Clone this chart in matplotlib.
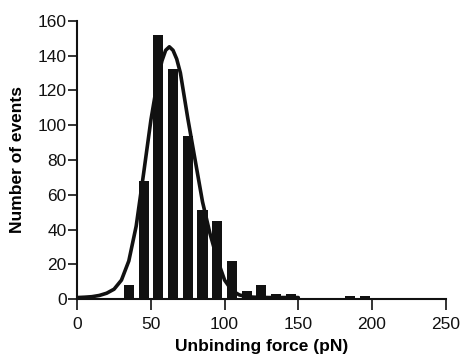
import matplotlib
matplotlib.use("Agg")
import matplotlib.pyplot as plt

# Histogram data (bin centres in pN, counts)
bin_centers = [35, 45, 55, 65, 75, 85, 95, 105, 115, 125, 135, 145, 185, 195]
counts = [8, 68, 152, 132, 94, 51, 45, 22, 5, 8, 3, 3, 2, 2]

# Fitted curve
curve_x = [0, 5, 10, 15, 20, 25, 30, 35, 40, 45, 50, 55, 57.5, 60, 62.5, 65,
           67.5, 70, 72.5, 75, 80, 85, 90, 95, 100, 105, 110, 115, 120, 130, 140, 150]
curve_y = [1.0, 1.2, 1.5, 2.2, 3.5, 5.8, 11, 22, 42, 72, 103, 128, 137, 143, 145, 143,
           138, 130, 117, 104, 80, 56, 38, 23, 11, 5, 2.5, 1.5, 1.2, 1.0, 1.0, 1.0]

x_ticks = [0, 50, 100, 150, 200, 250]
y_ticks = [0, 20, 40, 60, 80, 100, 120, 140, 160]

plt.rcParams['font.family'] = ['Liberation Sans', 'DejaVu Sans']

fig = plt.figure(figsize=(4.61, 3.56), dpi=100)
ax = fig.add_axes([0.1675, 0.1593, 0.7993, 0.7826])

ax.bar(bin_centers, counts, width=6.8, color='#111111', edgecolor='none', zorder=2)
ax.plot(curve_x, curve_y, color='#111111', lw=2.6, zorder=3, solid_capstyle='round')

ax.set_xlim(0, 250)
ax.set_ylim(0, 160)
ax.set_xticks(x_ticks)
ax.set_yticks(y_ticks)
ax.set_xticklabels([str(v) for v in x_ticks])
ax.set_yticklabels([str(v) for v in y_ticks])

for s in ['top', 'right']:
    ax.spines[s].set_visible(False)
for s in ['left', 'bottom']:
    ax.spines[s].set_linewidth(1.5)
    ax.spines[s].set_color('#111111')
ax.spines['bottom'].set_zorder(4)

ax.tick_params(axis='y', direction='out', length=6.5, width=1.2, labelsize=12.5, pad=1,
               colors='#111111')
ax.tick_params(axis='x', direction='out', length=8, width=1.2, labelsize=12.5, pad=5,
               colors='#111111')

ax.set_xlabel('Unbinding force (pN)', fontsize=12.5, fontweight='bold', labelpad=5)
ax.set_ylabel('Number of events', fontsize=12.5, fontweight='bold', labelpad=9)

fig.savefig('out.png', dpi=100)
